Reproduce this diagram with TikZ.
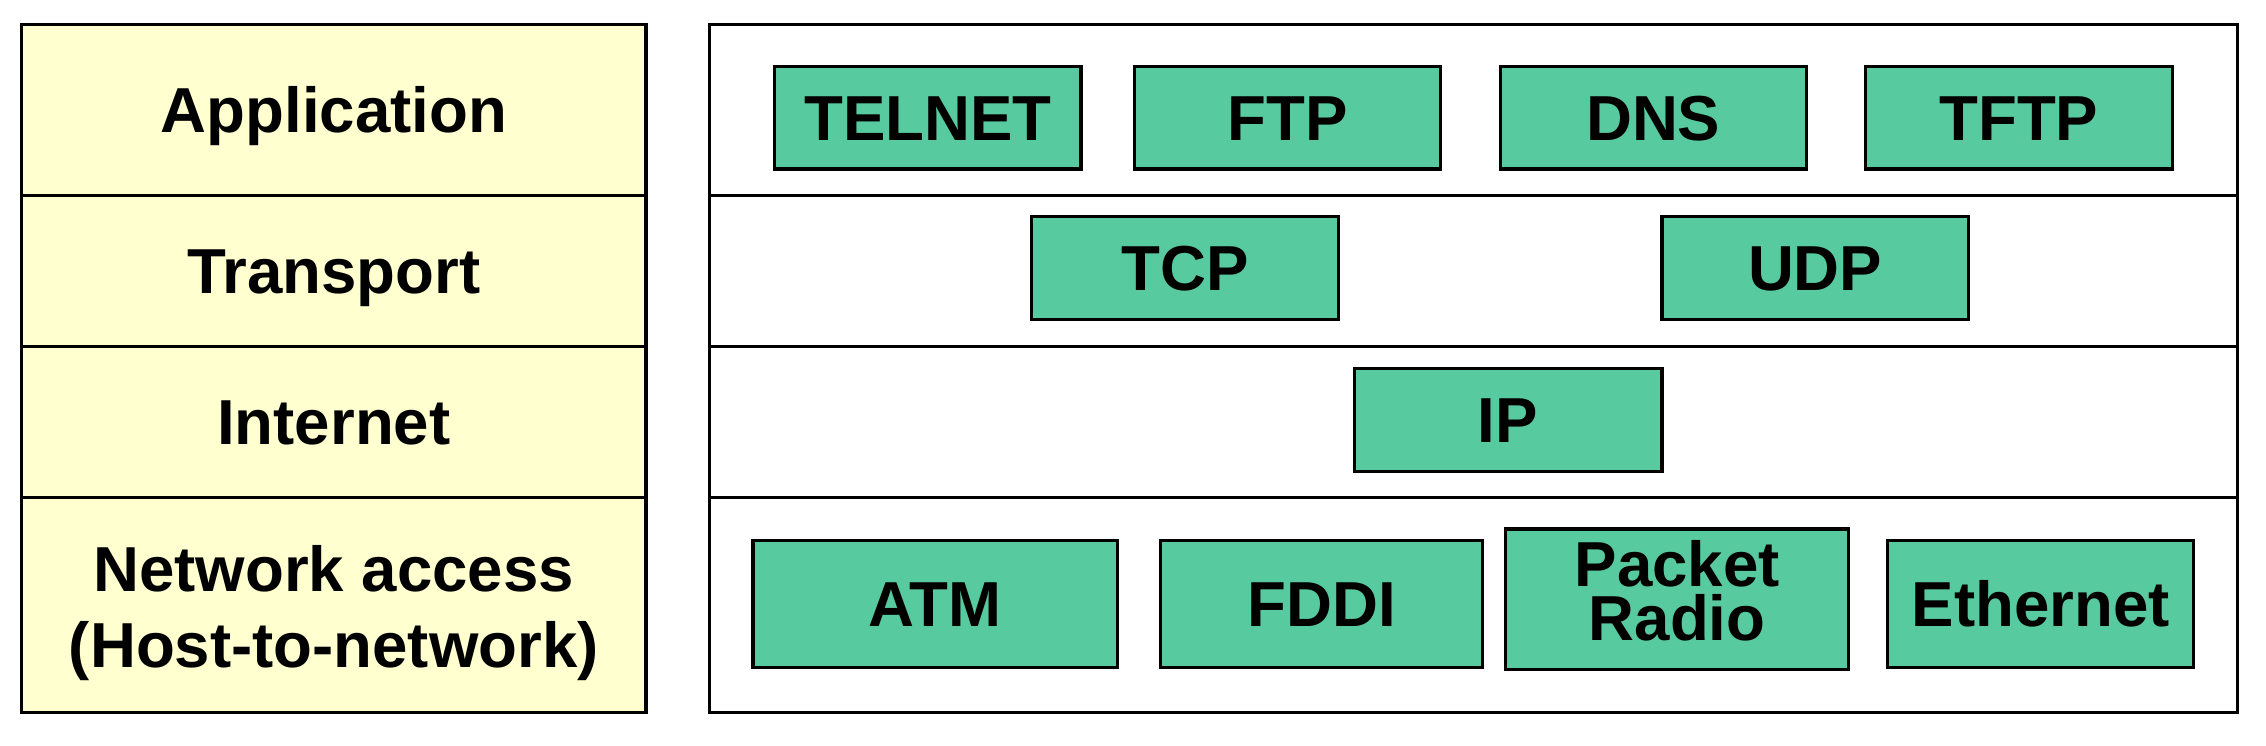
\documentclass[tikz,border=0pt]{standalone}
\usepackage{fontspec}
\setmainfont{Liberation Sans}
\definecolor{layeryellow}{RGB}{255,255,208}
\definecolor{protogreen}{RGB}{88,202,159}
\begin{document}
\begin{tikzpicture}[x=1pt,y={(0pt,-1pt)},
  lbl/.style={font=\fontsize{44}{52.5}\selectfont\bfseries},
  layercell/.style={draw=black,line width=2.2pt,fill=layeryellow,inner sep=0pt,
    minimum width=432pt,lbl,text height=31.5pt,text depth=0pt},
  rowcell/.style={draw=black,line width=2.2pt,fill=white,inner sep=0pt,minimum width=1057pt},
  proto/.style={draw=black,line width=2.2pt,fill=protogreen,inner sep=0pt,
    minimum width=212pt,minimum height=71pt,lbl,text height=31.5pt,text depth=0pt}]
\useasboundingbox (0,0) rectangle (1568,516);
% left column
\node[layercell,minimum height=118pt] (app) at (231,76) {Application};
\node[layercell,minimum height=105pt] (trn) at (231,187.5) {Transport};
\node[layercell,minimum height=104pt] (inet) at (231,292) {Internet};
\node[layercell,minimum height=149pt,align=center,text height=87pt,text depth=0pt] (net) at (231,418.5) {Network access\\(Host-to-network)};
% right column rows
\node[rowcell,minimum height=118pt] (rapp) at (1019.5,76) {};
\node[rowcell,minimum height=105pt] (rtrn) at (1019.5,187.5) {};
\node[rowcell,minimum height=104pt] (rinet) at (1019.5,292) {};
\node[rowcell,minimum height=149pt] (rnet) at (1019.5,418.5) {};
% application protocols
\node[proto] (telnet) at (642,81.5) {TELNET};
\node[proto] (ftp) at (891,81.5) {FTP};
\node[proto] (dns) at (1144,81.5) {DNS};
\node[proto] (tftp) at (1397,81.5) {TFTP};
% transport
\node[proto] (tcp) at (820,185.5) {TCP};
\node[proto] (udp) at (1256,185.5) {UDP};
% internet
\node[proto,minimum width=213pt] (ip) at (1043.5,290.5) {IP};
% network access
\node[proto,minimum width=252pt,minimum height=88pt] (atm) at (647,418) {ATM};
\node[proto,minimum width=223pt,minimum height=88pt] (fddi) at (914.5,418) {FDDI};
\node[proto,minimum width=237pt,minimum height=97pt,align=center,text height=57pt,text depth=0pt,
  font=\fontsize{44}{37}\selectfont\bfseries] (pr) at (1160.5,414.5) {Packet\\Radio};
\node[proto,minimum width=212pt,minimum height=88pt] (eth) at (1412,418) {Ethernet};
\end{tikzpicture}
\end{document}
